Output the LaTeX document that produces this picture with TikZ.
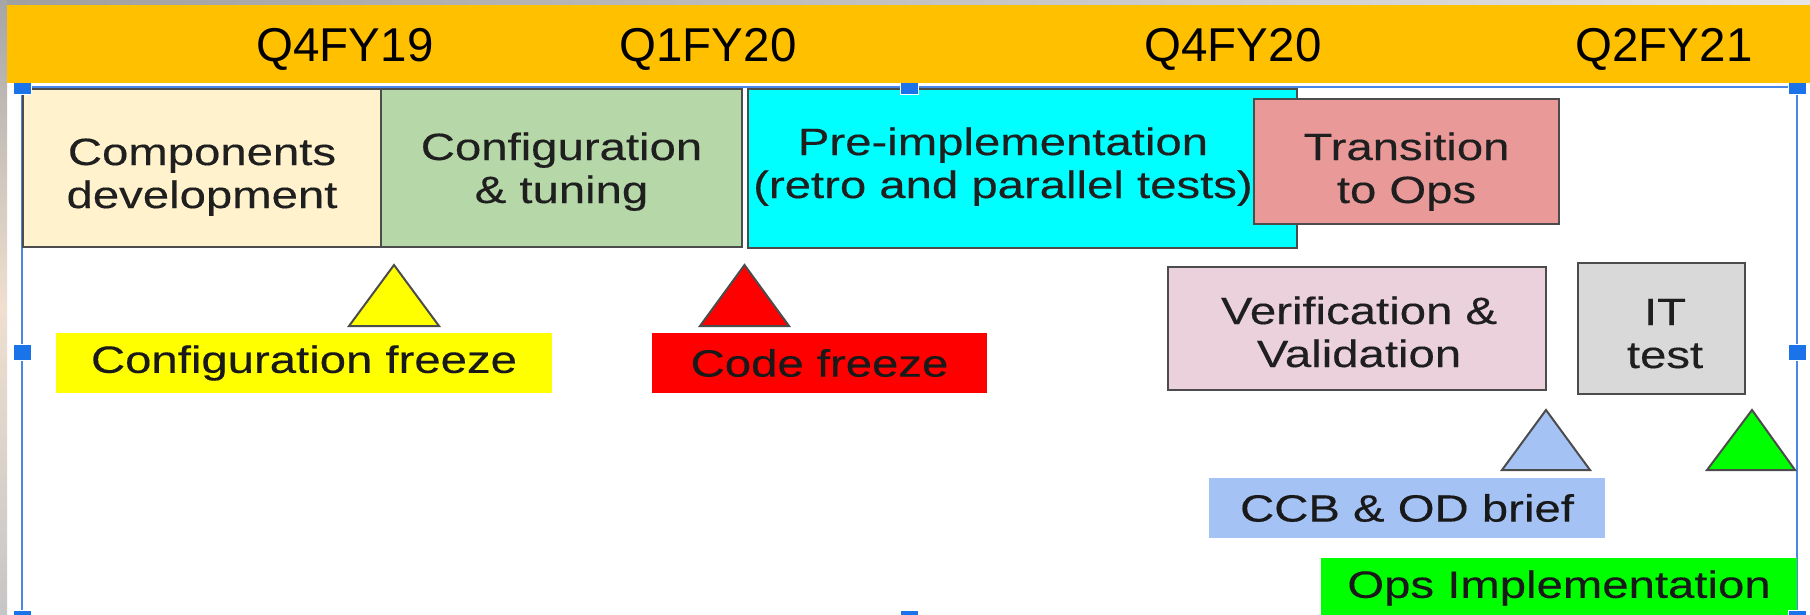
\documentclass[tikz,border=0pt]{standalone}
\usepackage{fontspec}
\setmainfont{Liberation Sans}
\newfontfamily\wfont[FakeStretch=1.245,FakeBold=0.3]{Liberation Sans}
\definecolor{hdr}{HTML}{FFC000}
\definecolor{cream}{HTML}{FFF2CC}
\definecolor{sage}{HTML}{B6D7A8}
\definecolor{cyanx}{HTML}{00FFFF}
\definecolor{rose}{HTML}{EA9999}
\definecolor{pinkx}{HTML}{EAD1DC}
\definecolor{grayx}{HTML}{D9D9D9}
\definecolor{yel}{HTML}{FFFF00}
\definecolor{redx}{HTML}{FF0000}
\definecolor{bluex}{HTML}{A4C2F4}
\definecolor{greenx}{HTML}{00FF00}
\definecolor{selblue}{HTML}{1A73E8}
\definecolor{selline}{HTML}{4A86E8}
\begin{document}
\begin{tikzpicture}[x=1pt,y=-1pt,
  box/.style={draw=black!70, line width=2pt, inner sep=0pt},
  txt/.style={inner sep=0pt, align=center, anchor=base, font=\wfont\fontsize{38}{43}\selectfont, text=black!88},
  tag/.style={inner sep=0pt, align=center, font=\wfont\fontsize{38}{43}\selectfont, text=black!90},
  hd/.style={font=\fontsize{47.5}{50}\selectfont, anchor=base, inner sep=0pt},
  handle/.style={fill=selblue, draw=white, line width=1pt, minimum width=18pt, minimum height=16pt, inner sep=0pt},
  tri/.style={draw=black!70, line width=2pt, line join=miter}]
\clip (0,0) rectangle (1810,615);
\fill[white] (0,0) rectangle (1810,615);
\shade[left color=gray!75, right color=gray!20] (0,0) rectangle (1810,6);
\shade[top color=gray!70, bottom color=gray!45, middle color=brown!25] (0,0) rectangle (7,615);
% selection frame
\draw[selline, line width=2pt] (22,615) -- (22,87) -- (1797,87) -- (1797,615);
% phase boxes
\node[box, fill=cream, minimum width=358, minimum height=158] (comp) at (202,168) {};
\node[txt] (compt) at (202,208) {Components\\development};
\node[box, fill=sage, minimum width=361, minimum height=158] (conf) at (561.5,168) {};
\node[txt] (conft) at (561.5,203) {Configuration\\\& tuning};
\node[box, fill=cyanx, minimum width=549, minimum height=159] (pre) at (1022.5,168.5) {};
\node[txt] (pret) at (1003,198) {Pre-implementation\\(retro and parallel tests)};
\node[box, fill=rose, minimum width=305, minimum height=125] (trans) at (1406.5,161.5) {};
\node[txt] (transt) at (1406.5,203) {Transition\\to Ops};
\node[box, fill=pinkx, minimum width=378, minimum height=123] (verif) at (1357,328.5) {};
\node[txt] (verift) at (1359,367) {Verification \&\\Validation};
\node[box, fill=grayx, minimum width=167, minimum height=131] (it) at (1661.5,328.5) {};
\node[txt] (itt) at (1665,368) {IT\\test};
% milestones
\draw[tri, fill=yel] (394,265) -- (439,326) -- (349,326) -- cycle;
\draw[tri, fill=redx] (744.5,265) -- (789,326) -- (700,326) -- cycle;
\draw[tri, fill=bluex] (1546,410) -- (1590,470) -- (1502,470) -- cycle;
\draw[tri, fill=greenx] (1752,410) -- (1795,470) -- (1707,470) -- cycle;
\node[tag, fill=yel, minimum width=496, minimum height=60] (cfz) at (304,363) {Configuration freeze};
\node[tag, fill=redx, minimum width=335, minimum height=60] (cdz) at (819.5,363) {Code freeze};
\node[tag, fill=bluex, minimum width=396, minimum height=60] (ccb) at (1407,508) {CCB \& OD brief};
\node[tag, fill=greenx, minimum width=476, minimum height=60] (ops) at (1559,588) {Ops Implementation};
% handles
\node[handle] (hl1) at (22,87) {};
\node[handle] (hl2) at (909,87) {};
\node[handle] (hl3) at (1797,87) {};
\node[handle] (hl4) at (22,352) {};
\node[handle] (hl5) at (1797,352) {};
\node[handle] (hl6) at (22,618) {};
\node[handle] (hl7) at (909,618) {};
\node[handle] (hl8) at (1797,618) {};
% header
\fill[hdr] (7,5) rectangle (1810,83);
\node[hd] (q1) at (345,62) {Q4FY19};
\node[hd] (q2) at (708,62) {Q1FY20};
\node[hd] (q3) at (1233,62) {Q4FY20};
\node[hd] (q4) at (1664,62) {Q2FY21};
\end{tikzpicture}
\end{document}
